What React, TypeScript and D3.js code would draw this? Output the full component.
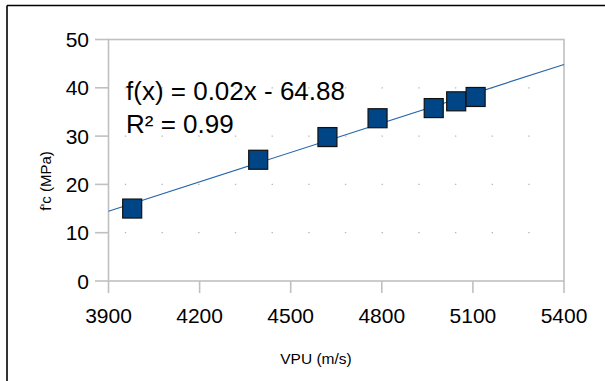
import React from "react";
import * as d3 from "d3";

const vpu = [3978, 4393, 4621, 4786, 4971, 5045, 5109];
const fc = [15.0, 25.1, 29.8, 33.7, 35.8, 37.2, 38.1];
const xTicks = [3900, 4200, 4500, 4800, 5100, 5400];
const yTicks = [0, 10, 20, 30, 40, 50];
const equationLines = ["f(x) = 0.02x - 64.88", "R² = 0.99"];
const xTitle = "VPU (m/s)";
const yTitle = "f'c (MPa)";

const W = 605;
const H = 381;
const L = 108.5, R = 564, T = 39.5, B = 281;
const FONT = "'Liberation Sans', Arial, Helvetica, sans-serif";

export default function App() {
  const x = d3.scaleLinear().domain([3900, 5400]).range([L, R]);
  const y = d3.scaleLinear().domain([0, 50]).range([B, T]);

  const mx = d3.mean(vpu)!;
  const my = d3.mean(fc)!;
  let sxy = 0, sxx = 0;
  vpu.forEach((v, i) => {
    sxy += (v - mx) * (fc[i] - my);
    sxx += (v - mx) * (v - mx);
  });
  const slope = sxy / sxx;
  const icpt = my - slope * mx;
  const line = d3.line<number>().x((d) => x(d)).y((d) => y(slope * d + icpt));

  const sq = 19;
  const period = 36.68;
  const firstDot = 16.3;

  return (
    <svg
      width={W}
      height={H}
      style={{ position: "fixed", left: 0, top: 0, display: "block", background: "#fff" }}
      fontFamily={FONT}
    >
      <rect x={0} y={0} width={W} height={H} fill="#fff" />
      {/* outer frame (left/top) */}
      <line x1={7} y1={5.5} x2={W} y2={5.5} stroke="#000" strokeWidth={1.6} />
      <line x1={7} y1={5.5} x2={7} y2={H} stroke="#000" strokeWidth={1.6} />

      {/* dotted gridlines */}
      {yTicks.filter((t) => t > 0 && t < 50).map((t) => (
        <line
          key={"g" + t}
          x1={L}
          x2={R}
          y1={y(t)}
          y2={y(t)}
          stroke="#b8b8b8"
          strokeWidth={1.3}
          strokeDasharray={`1.4 ${period - 1.4}`}
          strokeDashoffset={period - firstDot}
        />
      ))}

      {/* plot frame */}
      <rect x={L} y={T} width={R - L} height={B - T} fill="none" stroke="#c0c0c0" strokeWidth={1.6} />

      {/* y ticks */}
      {yTicks.map((t) => (
        <g key={"y" + t}>
          <line x1={95} x2={L} y1={y(t)} y2={y(t)} stroke="#c0c0c0" strokeWidth={1.6} />
          <text x={89} y={y(t) + 7.5} textAnchor="end" fontSize={21} fill="#000">
            {t}
          </text>
        </g>
      ))}

      {/* x ticks */}
      {xTicks.map((t) => (
        <g key={"x" + t}>
          <line x1={x(t)} x2={x(t)} y1={B} y2={293} stroke="#c0c0c0" strokeWidth={1.6} />
          <text x={x(t)} y={323.3} textAnchor="middle" fontSize={21} fill="#000">
            {t}
          </text>
        </g>
      ))}

      {/* trend line */}
      <path d={line([3900, 5400]) || ""} fill="none" stroke="#2466a8" strokeWidth={1.1} />

      {/* points */}
      {vpu.map((v, i) => (
        <rect
          key={"p" + i}
          x={x(v) - sq / 2}
          y={y(fc[i]) - sq / 2}
          width={sq}
          height={sq}
          fill="#004586"
          stroke="#111"
          strokeWidth={1.2}
        />
      ))}

      {/* equation */}
      {equationLines.map((s, i) => (
        <text key={"e" + i} x={126} y={100 + i * 33} fontSize={26} fill="#000">
          {s}
        </text>
      ))}

      {/* axis titles */}
      <text x={316} y={364} textAnchor="middle" fontSize={15.5} fill="#000">
        {xTitle}
      </text>
      <text
        transform={`translate(51,181) rotate(-90)`}
        textAnchor="middle"
        fontSize={15}
        fill="#000"
      >
        {yTitle}
      </text>
    </svg>
  );
}
